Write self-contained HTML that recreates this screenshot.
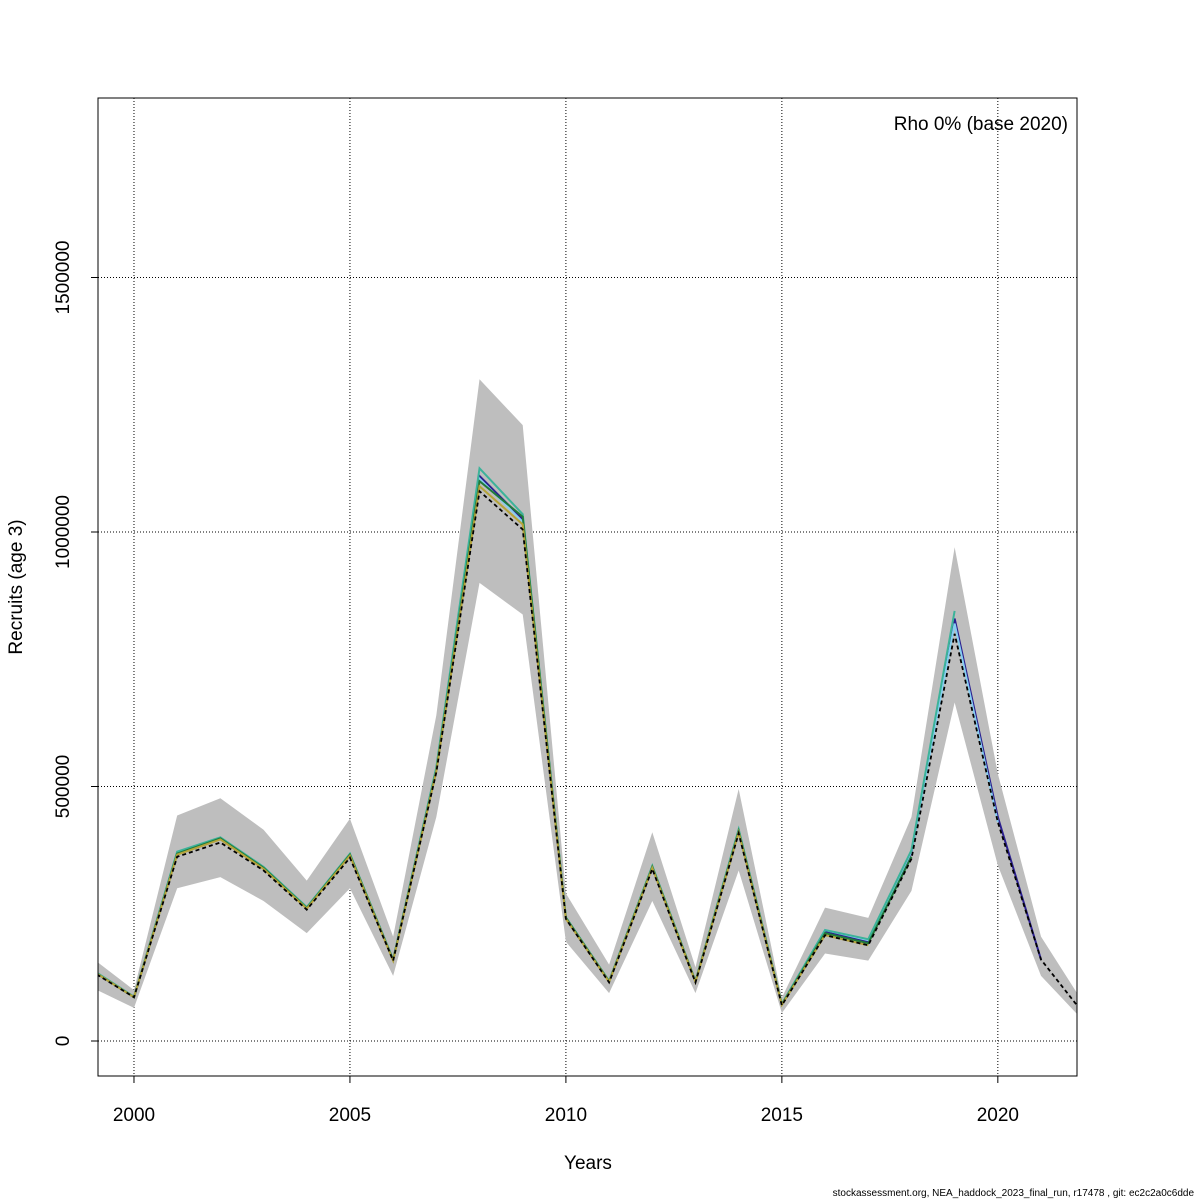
<!DOCTYPE html>
<html><head><meta charset="utf-8"><style>
body{margin:0;background:#fff}
svg{display:block;font-family:"Liberation Sans",Arial,sans-serif}
</style></head><body>
<svg id="chart" width="1200" height="1200" viewBox="0 0 1200 1200" xmlns="http://www.w3.org/2000/svg">
<defs><clipPath id="plotclip"><rect x="98" y="98" width="979" height="978"/></clipPath></defs>
<rect width="1200" height="1200" fill="#fff"/>
<g id="grid"></g>
<g id="marks" clip-path="url(#plotclip)"></g>
<rect x="98" y="98" width="979" height="978" fill="none" stroke="#000" stroke-width="1"/>
<g id="axes"></g>
<text x="1068" y="130" text-anchor="end" font-size="19">Rho 0% (base 2020)</text>
<text x="588" y="1169" text-anchor="middle" font-size="19">Years</text>
<text transform="translate(22,587) rotate(-90)" text-anchor="middle" font-size="19">Recruits (age 3)</text>
<text x="1194" y="1196" text-anchor="end" font-size="10">stockassessment.org, NEA_haddock_2023_final_run, r17478 , git: ec2c2a0c6dde</text>
</svg>
<script>
const years = [1999,2000,2001,2002,2003,2004,2005,2006,2007,2008,2009,2010,2011,2012,2013,2014,2015,2016,2017,2018,2019,2020,2021,2022];
const baseVals = [138000,86000,362000,390000,335000,258000,360000,158000,528000,1080000,1005000,240000,115000,338000,115000,408000,70000,208000,188000,358000,800000,430000,160000,52000];
const upperVals = [165000,100000,443000,477000,415000,315000,437000,205000,640000,1300000,1210000,290000,150000,410000,145000,495000,85000,262000,242000,440000,970000,525000,205000,72000];
const lowerVals = [106000,65000,300000,322000,275000,212000,300000,128000,440000,900000,838000,195000,94000,275000,94000,335000,55000,172000,158000,295000,665000,345000,128000,38000];
const peel2021 = [141000,86000,370000,398000,340000,262000,366000,160000,535000,1110000,1025000,242000,117000,342000,117000,414000,72000,215000,195000,370000,830000,440000,160000];
const peel2020 = [141000,86000,370000,398000,340000,262000,366000,160000,535000,1105000,1020000,242000,117000,342000,117000,414000,72000,218000,198000,372000,820000,430000];
const peel2019 = [142000,87000,372000,400000,342000,263000,368000,160000,538000,1125000,1035000,243000,118000,344000,118000,416000,73000,218000,200000,375000,845000];
const peel2018 = [140000,86000,368000,398000,340000,261000,366000,159000,532000,1100000,1030000,242000,117000,342000,117000,412000,72000,212000,192000,362000];
const peel2017 = [140000,86000,366000,396000,338000,260000,364000,158000,530000,1090000,1015000,240000,116000,340000,116000,410000,71000,208000,188000];
const xTicks = [2000,2005,2010,2015,2020];
const yTicks = [0,500000,1000000,1500000];

const NS='http://www.w3.org/2000/svg';
const X0=98,X1=1077,Y0=98,Y1=1076;
const xmin=1999.167,xmax=2021.833,ymin=-68762,ymax=1852652;
function xs(v){return X0+(v-xmin)/(xmax-xmin)*(X1-X0);}
function ys(v){return Y1-(v-ymin)/(ymax-ymin)*(Y1-Y0);}
function mk(tag,attrs,parent){const e=document.createElementNS(NS,tag);for(const k in attrs)e.setAttribute(k,attrs[k]);parent.appendChild(e);return e;}
const grid=document.getElementById('grid'),marks=document.getElementById('marks'),axes=document.getElementById('axes');

xTicks.forEach(t=>{
  const l=mk('line',{x1:xs(t),x2:xs(t),y1:Y0,y2:Y1,stroke:'#000','stroke-width':1,'stroke-dasharray':'1,2'},grid);
  
  
  const tk=mk('line',{x1:xs(t),x2:xs(t),y1:Y1,y2:Y1+7,stroke:'#000'},axes);
  
  
  const tx=mk('text',{x:xs(t),y:1121,'text-anchor':'middle','font-size':19},axes);
  tx.textContent=t;
  
  
});
yTicks.forEach(t=>{
  const l=mk('line',{x1:X0,x2:X1,y1:ys(t),y2:ys(t),stroke:'#000','stroke-width':1,'stroke-dasharray':'1,2'},grid);
  
  
  const tk=mk('line',{x1:X0-7,x2:X0,y1:ys(t),y2:ys(t),stroke:'#000'},axes);
  
  
  const tx=mk('text',{transform:`translate(69,${ys(t)}) rotate(-90)`,'text-anchor':'middle','font-size':19},axes);
  tx.textContent=t;
  
  
});

let pts=years.map((y,i)=>xs(y)+','+ys(upperVals[i]));
for(let i=years.length-1;i>=0;i--)pts.push(xs(years[i])+','+ys(lowerVals[i]));
const band=mk('polygon',{points:pts.join(' '),fill:'#bebebe',stroke:'none'},marks);



function line(vals,color,name,dash,w){
  const p=mk('polyline',{points:vals.map((v,i)=>xs(years[i])+','+ys(v)).join(' '),fill:'none',stroke:color,'stroke-width':w||2},marks);
  if(dash)p.setAttribute('stroke-dasharray',dash);
  
  
}
line(peel2021,'#2b1f8f','peel-2021-line');
line(peel2020,'#87cef0','peel-2020-line');
line(peel2019,'#3cb39a','peel-2019-line');
line(peel2018,'#1f7a3a','peel-2018-line');
line(peel2017,'#b5a43a','peel-2017-line');
line(baseVals,'#000','base-line','4,3',1.8);
</script>
</body></html>
